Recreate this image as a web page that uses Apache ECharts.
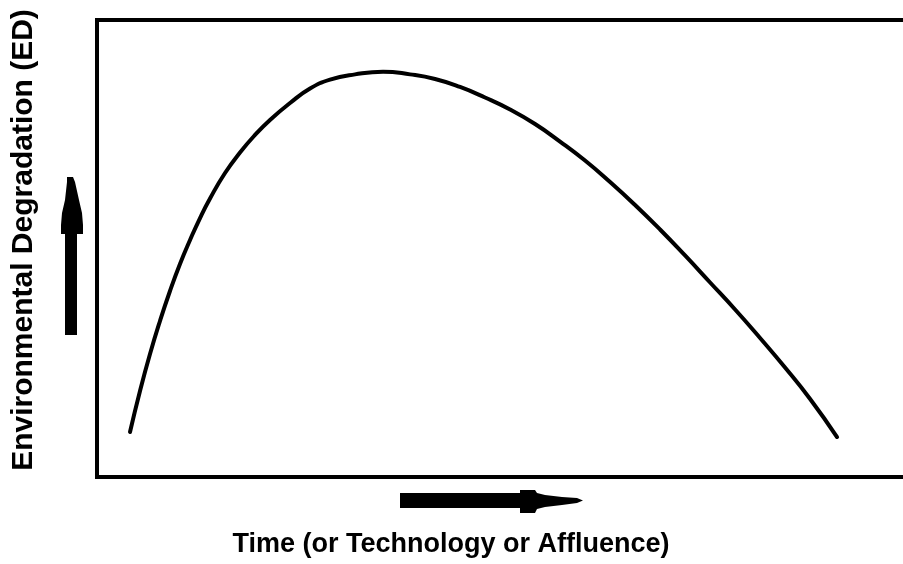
<!DOCTYPE html>
<html>
<head>
<meta charset="utf-8">
<script src="https://cdn.jsdelivr.net/npm/echarts@6/dist/echarts.min.js"></script>
<style>
html,body{margin:0;padding:0;background:#fff;}
#chart{width:903px;height:564px;}
</style>
</head>
<body>
<div id="chart"></div>
<script>
// Time (x) and Environmental Degradation (y, 0-100)
var timeValues = [4.03, 5.25, 6.47, 7.69, 8.91, 10.13, 11.36, 12.58, 13.80, 15.63, 17.46, 19.29, 21.12, 23.57, 26.01, 28.45, 31.50, 34.92,
                  38.22, 41.27, 44.32, 47.37, 50.43, 53.48, 56.53, 59.58, 62.64, 65.69, 68.74, 71.79, 74.85, 77.90, 80.95, 84.00, 87.06, 90.35];
var edValues   = [9.85, 18.82, 26.91, 34.14, 40.70, 46.61, 51.86, 56.67, 60.94, 66.52, 71.01, 74.84, 78.12, 81.84, 85.01, 86.95, 88.10, 88.69,
                  88.10, 87.09, 85.34, 83.04, 80.42, 77.24, 73.41, 69.26, 64.55, 59.52, 54.16, 48.47, 42.56, 36.65, 30.42, 23.96, 17.07, 8.75];
var xTitle = 'Time (or Technology or Affluence)';
var yTitle = 'Environmental Degradation (ED)';

var curve = timeValues.map(function (t, i) { return [t, edValues[i]]; });

var chart = echarts.init(document.getElementById('chart'), null, {renderer: 'canvas'});
var font = '"Liberation Sans", Arial, sans-serif';
var frameLine = {show: true, onZero: false, lineStyle: {color: '#000', width: 4, cap: 'square'}};
chart.setOption({
  animation: false,
  backgroundColor: '#ffffff',
  grid: {left: 97, top: 20, right: 0, bottom: 87, show: false},
  xAxis: [{
    type: 'value', min: 0, max: 98.4, position: 'bottom',
    axisLine: frameLine, axisTick: {show: false}, axisLabel: {show: false}, splitLine: {show: false}
  }, {
    type: 'value', min: 0, max: 98.4, position: 'top',
    axisLine: frameLine, axisTick: {show: false}, axisLabel: {show: false}, splitLine: {show: false}
  }],
  yAxis: {
    type: 'value', min: 0, max: 100, position: 'left',
    axisLine: frameLine, axisTick: {show: false}, axisLabel: {show: false}, splitLine: {show: false}
  },
  series: [{
    type: 'line',
    xAxisIndex: 0,
    data: curve,
    smooth: 0.5,
    symbol: 'none',
    lineStyle: {color: '#000', width: 4, cap: 'round', join: 'round'}
  }],
  graphic: [
    {
      type: 'polygon',
      shape: {points: [[67,177],[73,177],[75,182],[79,200],[82,213],[83,225],[83,234],[77,234],[77,335],[65,335],[65,234],[61,234],[61,225],[62,213],[65,200],[67,182]]},
      style: {fill: '#000'}
    },
    {
      type: 'polygon',
      shape: {points: [[400,493],[520,493],[520,490],[535,490],[537,493],[545,495],[562,497],[577,498],[583,500.5],[577,503],[562,505],[545,507],[537,509],[535,513],[520,513],[520,508],[400,508]]},
      style: {fill: '#000'}
    },
    {
      type: 'text',
      x: 451, y: 545,
      style: {text: xTitle, fill: '#000', font: 'bold 27px ' + font, align: 'center', verticalAlign: 'middle'}
    },
    {
      type: 'text',
      x: 24, y: 240,
      rotation: Math.PI / 2,
      style: {text: yTitle, fill: '#000', font: 'bold 30px ' + font, align: 'center', verticalAlign: 'middle'}
    }
  ]
});
</script>
</body>
</html>
